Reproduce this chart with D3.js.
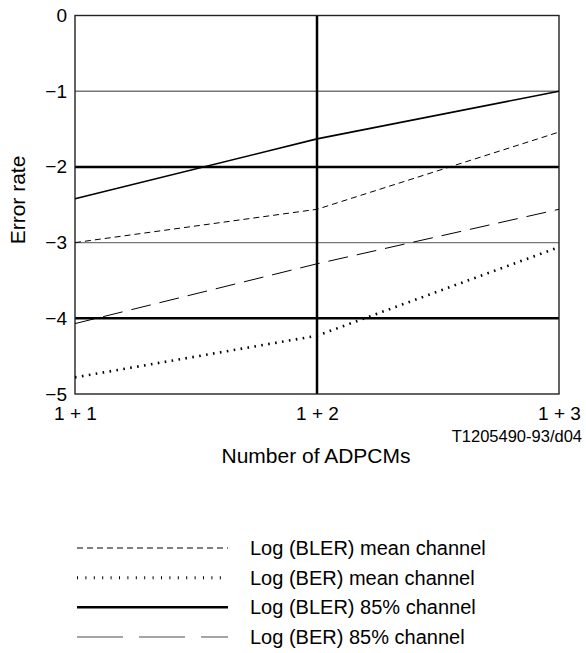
<!DOCTYPE html>
<html>
<head>
<meta charset="utf-8">
<script src="https://cdn.jsdelivr.net/npm/d3@7"></script>
<style>
  body { margin: 0; background: #fff; }
  svg { display: block; font-family: "Liberation Sans", Arial, sans-serif; }
</style>
</head>
<body>
<svg id="chart"></svg>
<script>
// Error rate vs number of ADPCMs
const categories = ['1 + 1', '1 + 2', '1 + 3'];
const yTicks = [0, -1, -2, -3, -4, -5];
const blerMean = [-3.0, -2.56, -1.54];
const berMean = [-4.78, -4.23, -3.06];
const bler85 = [-2.42, -1.63, -1.0];
const ber85 = [-4.07, -3.28, -2.56];

const series = [
    { name: 'Log (BLER) mean channel', values: blerMean, dash: '6,4', width: 1, legendDash: '6,4', legendWidth: 1, legendColor: '#000' },
    { name: 'Log (BER) mean channel', values: berMean, dash: '1.6,5.4', width: 2.6, legendDash: '1,7.4', legendWidth: 3, legendColor: '#000' },
    { name: 'Log (BLER) 85% channel', values: bler85, dash: null, width: 1.6, legendDash: null, legendWidth: 2.5, legendColor: '#000' },
    { name: 'Log (BER) 85% channel', values: ber85, dash: '20,9', width: 1, legendDash: '46,16', legendWidth: 1.4, legendColor: '#888' }
];

const W = 586, H = 653;
const svg = d3.select('#chart').attr('width', W).attr('height', H);

const x = d3.scalePoint().domain(categories).range([75, 559]);
const y = d3.scaleLinear().domain([-5, 0]).range([394, 15.5]);

const g = svg.append('g');

// horizontal grid
g.selectAll('.hgrid').data([-1, -2, -3, -4]).enter().append('line')
    .attr('x1', x.range()[0]).attr('x2', x.range()[1])
    .attr('y1', d => y(d)).attr('y2', d => y(d))
    .attr('stroke', d => d % 2 === 0 ? '#000' : '#777')
    .attr('stroke-width', d => d % 2 === 0 ? 2.5 : 1.4);

// middle vertical
g.append('line')
    .attr('x1', x('1 + 2')).attr('x2', x('1 + 2'))
    .attr('y1', y(0)).attr('y2', y(-5))
    .attr('stroke', '#000').attr('stroke-width', 2.5);

// frame
g.append('rect')
    .attr('x', x.range()[0]).attr('y', y(0))
    .attr('width', x.range()[1] - x.range()[0]).attr('height', y(-5) - y(0))
    .attr('fill', 'none').attr('stroke', '#222').attr('stroke-width', 1.4);

// series lines
const line = d3.line().x((d, i) => x(categories[i])).y(d => y(d));
g.selectAll('.series').data(series).enter().append('path')
    .attr('d', d => line(d.values))
    .attr('fill', 'none')
    .attr('stroke', '#000')
    .attr('stroke-width', d => d.width)
    .attr('stroke-dasharray', d => d.dash);

// y axis labels
const yAxis = d3.axisLeft(y).tickValues(yTicks).tickSize(0).tickPadding(8)
    .tickFormat(d => d === 0 ? '0' : '\u2212' + Math.abs(d));
g.append('g').attr('transform', 'translate(' + x.range()[0] + ',0)').call(yAxis)
    .call(a => a.select('.domain').remove())
    .selectAll('text').attr('font-size', 19).attr('font-family', '"Liberation Sans", Arial, sans-serif').attr('fill', '#000');

// x axis labels
const xAxis = d3.axisBottom(x).tickSize(0).tickPadding(13);
g.append('g').attr('transform', 'translate(0,' + y(-5) + ')').call(xAxis)
    .call(a => a.select('.domain').remove())
    .selectAll('text').attr('font-size', 19).attr('font-family', '"Liberation Sans", Arial, sans-serif').attr('fill', '#000');

// titles
svg.append('text').attr('x', 316).attr('y', 463).attr('text-anchor', 'middle')
    .attr('font-size', 21).text('Number of ADPCMs');
svg.append('text').attr('transform', 'translate(25,200) rotate(-90)').attr('text-anchor', 'middle')
    .attr('font-size', 21).text('Error rate');
svg.append('text').attr('x', 582).attr('y', 442).attr('text-anchor', 'end')
    .attr('font-size', 16.5).text('T1205490-93/d04');

// legend
const legendY = d3.scalePoint().domain(series.map(s => s.name)).range([548, 637]);
const leg = svg.selectAll('.legend').data(series).enter().append('g')
    .attr('transform', d => 'translate(0,' + legendY(d.name) + ')');
leg.append('line')
    .attr('x1', 77).attr('x2', 228).attr('y1', 0).attr('y2', 0)
    .attr('stroke', d => d.legendColor)
    .attr('stroke-width', d => d.legendWidth)
    .attr('stroke-dasharray', d => d.legendDash);
leg.append('text').attr('x', 250).attr('y', 7).attr('font-size', 20)
    .text(d => d.name);
</script>
</body>
</html>
